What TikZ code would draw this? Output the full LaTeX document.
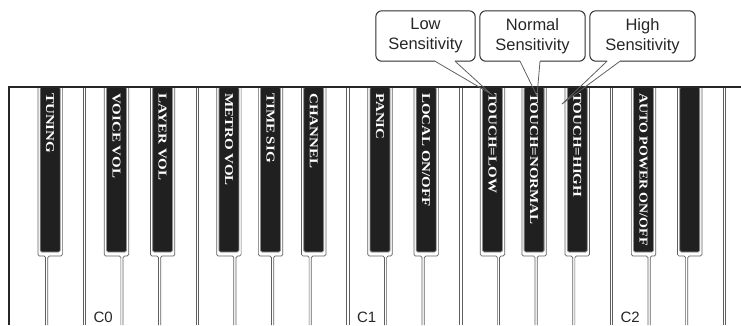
\documentclass[tikz,border=0pt]{standalone}
\usepackage{fontspec}
\setmainfont{Liberation Serif}
\setsansfont{Liberation Sans}
\usepackage{graphicx}
\usepackage{tikz}
\usetikzlibrary{calc}
\definecolor{keyblack}{RGB}{32,32,32}
\definecolor{keyline}{RGB}{95,95,95}
\definecolor{calloutline}{RGB}{45,45,45}

\begin{document}
\begin{tikzpicture}[
    x=1pt, y=-1pt,
    keyedge/.style={draw=keyline, line width=0.7pt, rounded corners=1.5pt},
    blackkey/.style={fill=keyblack, draw=keyline!70, line width=0.8pt, rounded corners=1.5pt},
    keytext/.style={text=white, font=\rmfamily\bfseries\fontsize{15}{15}\selectfont, rotate=-90, anchor=west, inner sep=0pt},
    octave/.style={font=\sffamily\fontsize{15}{15}\selectfont, anchor=base, inner sep=0pt, text=black!85},
    bubble/.style={minimum width=105pt, minimum height=50pt, align=center, inner sep=0pt, text=black!85, font=\sffamily\fontsize{16.5}{20}\selectfont},
    bubbleline/.style={draw=calloutline, line width=1pt, rounded corners=6pt},
    tail/.style={draw=calloutline!75, line width=0.8pt}
]
\useasboundingbox (0,0) rectangle (741,325);

\foreach \k in {2,5,9,12,16,19} {
  \pgfmathsetmacro\bx{9+37.65*\k}
  \draw[keyedge] (\bx-1.1,87) -- (\bx-1.1,325) (\bx+1.1,87) -- (\bx+1.1,325);
}
\foreach \k/\off/\lab/\len in {1/3.5/TUNING/1, 3/-5.5/VOICE VOL/1, 4/3/LAYER VOL/1,
    6/-6/METRO VOL/1, 7/-2/TIME SIG/1, 8/3.5/CHANNEL/1, 10/-5.5/PANIC/1,
    11/3/{LOCAL ON/OFF}/1, 13/-6/TOUCH=LOW/1, 14/-2/TOUCH=NORMAL/1,
    15/3.5/TOUCH=HIGH/1, 17/-5.5/{AUTO POWER ON/OFF}/0.93, 18/3/{}/1} {
  \pgfmathsetmacro\bx{9+37.65*\k}
  \pgfmathsetmacro\cx{\bx+\off}
  \draw[keyedge] (\cx-12.2,87) |- (\bx-1.1,256) -- (\bx-1.1,325);
  \draw[keyedge] (\cx+12.2,87) |- (\bx+1.1,256) -- (\bx+1.1,325);
  \draw[blackkey] (\cx-10,87) rectangle (\cx+10,252);
  \node[keytext] (lab\k) at (\cx,93) {\scalebox{\len}[0.8]{\lab}};
}
\draw[line width=1.1pt, black!85] (9,325) -- (9,87) -- (741,87);

\node[octave] (c0) at (9+37.65*2.5,322) {C0};
\node[octave] (c1) at (9+37.65*9.5,322) {C1};
\node[octave] (c2) at (9+37.65*16.5,322) {C2};

\node[bubble, minimum width=99pt] (low) at (425.5,36) {Low\\Sensitivity};
\node[bubble] (normal) at (532.5,36) {Normal\\Sensitivity};
\node[bubble] (high) at (642.5,36) {High\\Sensitivity};
\coordinate (lowtip) at (491,94);
\coordinate (normaltip) at (537,96);
\coordinate (hightip) at (562,104);

\draw[bubbleline] ($(low.south)+(29.5,0)$) -| (low.north east) -| (low.south west) -- ($(low.south)+(9.5,0)$);
\draw[bubbleline] ($(normal.south)+(7.5,0)$) -| (normal.north east) -| (normal.south west) -- ($(normal.south)+(-12.5,0)$);
\draw[bubbleline] ($(high.south)+(-22.5,0)$) -| (high.north east) -| (high.south west) -- ($(high.south)+(-35.5,0)$);
\draw[tail] ($(low.south)+(9.5,0)$) -- (lowtip) -- ($(low.south)+(29.5,0)$);
\draw[tail] ($(normal.south)+(-12.5,0)$) -- (normaltip) -- ($(normal.south)+(7.5,0)$);
\draw[tail] ($(high.south)+(-35.5,0)$) -- (hightip) -- ($(high.south)+(-22.5,0)$);
\end{tikzpicture}
\end{document}
